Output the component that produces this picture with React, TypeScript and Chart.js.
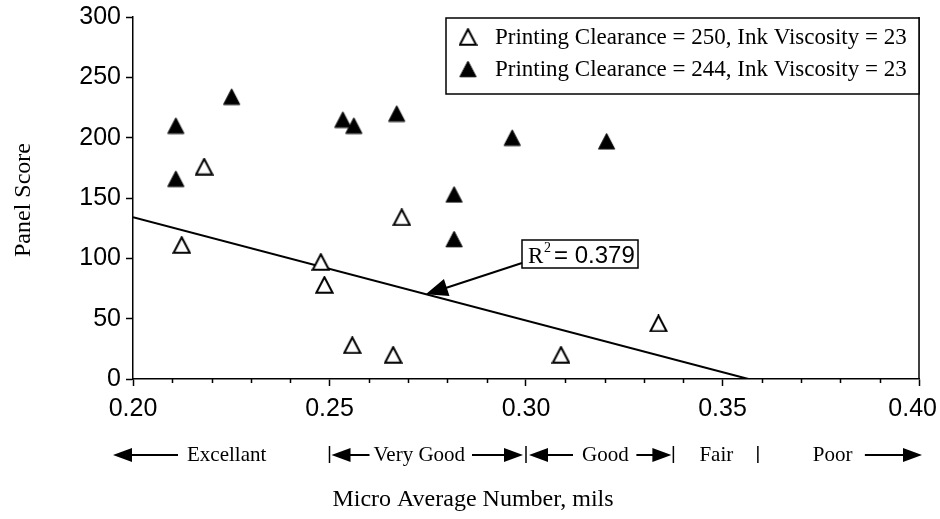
import React, { useEffect, useRef } from "react";
import { Chart, registerables } from "chart.js";

Chart.register(...registerables);

// Micro average number (mils) and panel score for each print run
const clearance250X = [0.2124, 0.2181, 0.2478, 0.2487, 0.2558, 0.2662, 0.2684, 0.3089, 0.3337];
const clearance250Y = [111, 176, 97, 78, 28, 20, 134, 20, 46];
const clearance244X = [0.2109, 0.2109, 0.2251, 0.2534, 0.2562, 0.2671, 0.2817, 0.2817, 0.2965, 0.3205];
const clearance244Y = [210, 166, 234, 215, 210, 220, 153, 116, 200, 197];

// fitted trend line for the 250 clearance runs (end points)
const trendX = [0.2, 0.3566];
const trendY = [134, 0];

const seriesLabels = [
  "Printing Clearance = 250, Ink Viscosity = 23",
  "Printing Clearance = 244, Ink Viscosity = 23",
];
const xTickValues = [0.2, 0.25, 0.3, 0.35, 0.4];
const ratingLabels = ["Excellant", "Very Good", "Good", "Fair", "Poor"];
const ratingBounds = [0.25, 0.3, 0.3375, 0.359];
const rSquaredText = "0.379";
const xTitle = "Micro Average Number, mils";
const yTitle = "Panel Score";

const SANS = '"Liberation Sans", Arial, sans-serif';
const SERIF = '"Liberation Serif", "Times New Roman", serif';

function triangleImage(filled: boolean): HTMLCanvasElement {
  const c = document.createElement("canvas");
  c.width = 19;
  c.height = 18;
  const g = c.getContext("2d")!;
  g.beginPath();
  g.moveTo(9.5, 1.2);
  g.lineTo(17.6, 16.8);
  g.lineTo(1.4, 16.8);
  g.closePath();
  g.strokeStyle = "#000";
  if (filled) {
    g.fillStyle = "#000";
    g.fill();
    g.lineWidth = 1;
    g.stroke();
  } else {
    g.fillStyle = "#fff";
    g.fill();
    g.lineWidth = 2;
    g.stroke();
  }
  return c;
}

function arrowHead(ctx: CanvasRenderingContext2D, tipX: number, tipY: number, fromX: number, fromY: number, len: number, halfW: number) {
  const dx = tipX - fromX;
  const dy = tipY - fromY;
  const d = Math.hypot(dx, dy) || 1;
  const ux = dx / d;
  const uy = dy / d;
  const bx = tipX - ux * len;
  const by = tipY - uy * len;
  ctx.beginPath();
  ctx.moveTo(tipX, tipY);
  ctx.lineTo(bx - uy * halfW, by + ux * halfW);
  ctx.lineTo(bx + uy * halfW, by - ux * halfW);
  ctx.closePath();
  ctx.fill();
}

export default function App() {
  const canvasRef = useRef<HTMLCanvasElement | null>(null);

  useEffect(() => {
    document.body.style.margin = "0";
    const canvas = canvasRef.current;
    if (!canvas) return;

    const openTri = triangleImage(false);
    const fillTri = triangleImage(true);

    const trend = trendX.map((x, i) => ({ x, y: trendY[i] }));
    const trendAt = (x: number) =>
      trendY[0] + ((trendY[1] - trendY[0]) * (x - trendX[0])) / (trendX[1] - trendX[0]);
    const calloutX = 0.2745;

    const decorations = {
      id: "decorations",
      afterDraw(chart: any) {
        const ctx: CanvasRenderingContext2D = chart.ctx;
        const xs = chart.scales.x;
        const ys = chart.scales.y;
        const area = chart.chartArea;
        ctx.save();
        ctx.strokeStyle = "#000";
        ctx.fillStyle = "#000";

        // minor ticks on the x axis
        ctx.lineWidth = 1.5;
        for (let i = 0; i <= 20; i++) {
          if (i % 5 === 0) continue;
          const px = Math.round(xs.getPixelForValue(0.2 + i * 0.01)) + 0.5;
          ctx.beginPath();
          ctx.moveTo(px, area.bottom);
          ctx.lineTo(px, area.bottom + 4);
          ctx.stroke();
        }

        // x tick labels, kept inside the canvas at the right end
        ctx.font = `25px ${SANS}`;
        ctx.textBaseline = "middle";
        xTickValues.forEach((v) => {
          const label = v.toFixed(2);
          const w = ctx.measureText(label).width;
          let cx = xs.getPixelForValue(v);
          cx = Math.min(cx, chart.width - 3 - w / 2);
          ctx.textAlign = "center";
          ctx.fillText(label, cx, area.bottom + 30);
        });

        // right frame line
        ctx.lineWidth = 1.5;
        ctx.beginPath();
        ctx.moveTo(area.right, area.top);
        ctx.lineTo(area.right, area.bottom);
        ctx.stroke();

        // legend box
        const lgLeft = 446;
        const lgTop = area.top + 1;
        const lgBottom = 94;
        ctx.fillStyle = "#fff";
        ctx.fillRect(lgLeft, lgTop, area.right - lgLeft, lgBottom - lgTop);
        ctx.lineWidth = 1.5;
        ctx.strokeRect(lgLeft, lgTop, area.right - lgLeft, lgBottom - lgTop);
        ctx.fillStyle = "#000";
        ctx.font = `23px ${SERIF}`;
        ctx.textBaseline = "middle";
        ctx.textAlign = "left";
        const rows = [37, 69];
        const marks = [openTri, fillTri];
        chart.data.datasets.slice(0, 2).forEach((ds: any, i: number) => {
          ctx.drawImage(marks[i], 468 - marks[i].width / 2, rows[i] - marks[i].height / 2);
          ctx.fillText(ds.label, 495, rows[i] + 1);
        });

        // R² callout
        const boxL = 522;
        const boxT = 240;
        const boxW = 116;
        const boxH = 28;
        ctx.fillStyle = "#fff";
        ctx.fillRect(boxL, boxT, boxW, boxH);
        ctx.lineWidth = 1.5;
        ctx.strokeRect(boxL, boxT, boxW, boxH);
        ctx.fillStyle = "#000";
        ctx.textBaseline = "alphabetic";
        ctx.font = `23px ${SERIF}`;
        ctx.fillText("R", boxL + 6, boxT + 23);
        ctx.font = `14px ${SERIF}`;
        ctx.fillText("2", boxL + 22, boxT + 12);
        ctx.font = `24px ${SANS}`;
        ctx.fillText("= " + rSquaredText, boxL + 32, boxT + 23);

        const tipX = xs.getPixelForValue(calloutX);
        const tipY = ys.getPixelForValue(trendAt(calloutX));
        const fromX = boxL;
        const fromY = boxT + 23;
        ctx.lineWidth = 2;
        ctx.beginPath();
        ctx.moveTo(fromX, fromY);
        ctx.lineTo(tipX + 10, tipY - 3);
        ctx.stroke();
        arrowHead(ctx, tipX, tipY, fromX, fromY, 22, 9);

        // rating scale under the axis
        const ry = 455;
        const b = ratingBounds.map((v) => xs.getPixelForValue(v));
        const bar = (px: number) => {
          ctx.lineWidth = 1.5;
          ctx.beginPath();
          ctx.moveTo(px, ry - 9);
          ctx.lineTo(px, ry + 8);
          ctx.stroke();
        };
        const arrow = (tail: number, tip: number) => {
          ctx.lineWidth = 2;
          ctx.beginPath();
          ctx.moveTo(tail, ry);
          ctx.lineTo(tip + (tail < tip ? -8 : 8), ry);
          ctx.stroke();
          arrowHead(ctx, tip, ry, tail, ry, 19, 7);
        };
        ctx.font = `21px ${SERIF}`;
        ctx.textBaseline = "middle";
        ctx.textAlign = "left";

        arrow(area.left + 45, area.left - 20);
        ctx.fillText(ratingLabels[0], area.left + 54, ry);

        bar(b[0]);
        arrow(b[0] + 40, b[0] + 2);
        ctx.fillText(ratingLabels[1], b[0] + 44, ry);
        arrow(b[1] - 54, b[1] - 3);

        bar(b[1]);
        arrow(b[1] + 47, b[1] + 3);
        ctx.fillText(ratingLabels[2], b[1] + 56, ry);
        arrow(b[2] - 37, b[2] - 2);

        bar(b[2]);
        ctx.fillText(ratingLabels[3], b[2] + 26, ry);

        bar(b[3]);
        ctx.fillText(ratingLabels[4], b[3] + 55, ry);
        arrow(b[3] + 107, area.right + 3);

        // axis titles
        ctx.font = `24px ${SERIF}`;
        ctx.textAlign = "center";
        ctx.fillText(xTitle, 473, 500);
        ctx.save();
        ctx.translate(24, 200);
        ctx.rotate(-Math.PI / 2);
        ctx.fillText(yTitle, 0, 0);
        ctx.restore();

        ctx.restore();
      },
    };

    const chart = new Chart(canvas, {
      type: "scatter",
      data: {
        datasets: [
          {
            label: seriesLabels[0],
            data: clearance250X.map((x, i) => ({ x, y: clearance250Y[i] })),
            pointStyle: openTri as any,
            pointRadius: 9,
          },
          {
            label: seriesLabels[1],
            data: clearance244X.map((x, i) => ({ x, y: clearance244Y[i] })),
            pointStyle: fillTri as any,
            pointRadius: 9,
          },
          {
            label: "trend",
            type: "line",
            data: trend,
            showLine: true,
            borderColor: "#000",
            borderWidth: 2,
            pointRadius: 0,
            fill: false,
          } as any,
        ],
      },
      options: {
        responsive: false,
        animation: false,
        events: [],
        layout: { padding: { top: 17, right: 21, left: 0, bottom: 0 } },
        plugins: {
          legend: { display: false },
          tooltip: { enabled: false },
        },
        scales: {
          x: {
            type: "linear",
            min: 0.2,
            max: 0.4,
            border: { display: true, color: "#000", width: 1.5 },
            grid: {
              display: true,
              drawOnChartArea: false,
              drawTicks: true,
              tickLength: 7,
              tickWidth: 1.5,
              tickColor: (c: any) => (c.index % 5 === 0 ? "#000" : "rgba(0,0,0,0)"),
            },
            ticks: {
              stepSize: 0.01,
              autoSkip: false,
              maxRotation: 0,
              minRotation: 0,
              display: false,
            },
            afterFit: (s: any) => {
              s.height = 140;
              s.paddingLeft = 0;
              s.paddingRight = 0;
            },
          },
          y: {
            min: 0,
            max: 300,
            border: { display: true, color: "#000", width: 1.5 },
            grid: {
              display: true,
              drawOnChartArea: false,
              drawTicks: true,
              tickLength: 7,
              tickWidth: 1.5,
              tickColor: "#000",
            },
            ticks: {
              stepSize: 50,
              padding: 5,
              color: "#000",
              font: { family: SANS, size: 25 },
            },
            afterFit: (s: any) => {
              s.width = 133;
              s.paddingTop = 0;
              s.paddingBottom = 0;
            },
          },
        },
      },
      plugins: [decorations],
    });

    return () => chart.destroy();
  }, []);

  return (
    <div style={{ width: 940, height: 519, background: "#fff" }}>
      <canvas ref={canvasRef} width={940} height={519} />
    </div>
  );
}
